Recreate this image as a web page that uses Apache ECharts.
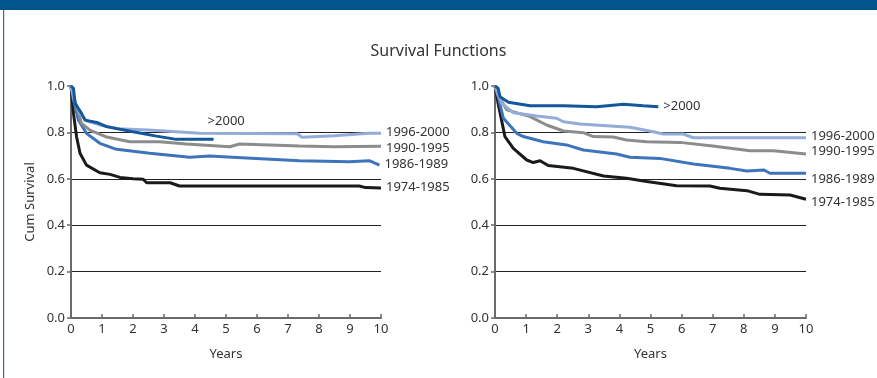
<!DOCTYPE html>
<html><head><meta charset="utf-8">
<script src="https://cdn.jsdelivr.net/npm/echarts@6/dist/echarts.min.js"></script>
<style>html,body{margin:0;padding:0;background:#fff}#c{width:877px;height:378px}</style>
</head><body><div id="c"></div>
<script>
// ---- data (years, cumulative survival) ----
const seriesNames = ['>2000', '1996-2000', '1990-1995', '1986-1989', '1974-1985'];
const xTicks = [0,1,2,3,4,5,6,7,8,9,10];
const yTicks = [0.0,0.2,0.4,0.6,0.8,1.0];

const leftGt2000 = [[0,1],[0.08,0.99],[0.13,0.925],[0.34,0.882],[0.45,0.853],[0.83,0.843],[1.15,0.825],[2.0,0.803],[2.76,0.784],[3.4,0.77],[4.6,0.77]];
const left1996 = [[0,1],[0.1,0.94],[0.3,0.88],[0.5,0.85],[1.0,0.83],[1.5,0.816],[2.5,0.81],[4.15,0.796],[7.3,0.794],[7.45,0.779],[8.5,0.786],[9.6,0.796],[10,0.796]];
const left1990 = [[0,1],[0.18,0.911],[0.34,0.839],[0.61,0.81],[1.15,0.78],[1.9,0.76],[2.86,0.76],[3.72,0.75],[5.12,0.738],[5.44,0.75],[7.37,0.741],[8.5,0.738],[10,0.74]];
const left1986 = [[0,1],[0.08,0.94],[0.24,0.853],[0.5,0.796],[0.93,0.753],[1.47,0.727],[2.54,0.71],[3.83,0.693],[4.47,0.698],[5.2,0.693],[7.37,0.678],[8.98,0.674],[9.62,0.678],[9.95,0.659]];
const left1974 = [[0,1],[0.08,0.882],[0.18,0.781],[0.29,0.71],[0.5,0.659],[0.93,0.626],[1.26,0.619],[1.58,0.606],[2.0,0.6],[2.33,0.598],[2.44,0.583],[3.2,0.583],[3.5,0.569],[4.15,0.569],[9.3,0.569],[9.5,0.562],[10,0.56]];

const rightGt2000 = [[0,1],[0.1,0.99],[0.16,0.954],[0.43,0.93],[1.13,0.915],[2.2,0.915],[3.27,0.911],[4.13,0.921],[4.77,0.915],[5.25,0.911]];
const right1996 = [[0,1],[0.22,0.925],[0.59,0.885],[1.34,0.871],[1.98,0.861],[2.2,0.846],[2.73,0.836],[4.34,0.822],[5.09,0.803],[5.41,0.793],[6.05,0.793],[6.38,0.777],[10,0.777]];
const right1990 = [[0,1],[0.1,0.96],[0.38,0.897],[1.13,0.868],[1.66,0.832],[2.2,0.806],[2.84,0.799],[3.16,0.782],[3.8,0.78],[4.23,0.767],[4.87,0.76],[5.95,0.757],[7.0,0.741],[8.2,0.721],[8.95,0.721],[10,0.707]];
const right1986 = [[0,1],[0.1,0.954],[0.27,0.861],[0.7,0.796],[0.91,0.782],[1.55,0.76],[2.3,0.746],[2.84,0.724],[3.91,0.707],[4.34,0.693],[5.3,0.688],[6.38,0.664],[7.56,0.645],[8.1,0.634],[8.65,0.638],[8.84,0.624],[10,0.624]];
const right1974 = [[0,1],[0.1,0.925],[0.32,0.782],[0.59,0.731],[1.02,0.681],[1.23,0.67],[1.45,0.678],[1.71,0.657],[2.52,0.645],[3.49,0.612],[4.23,0.602],[4.88,0.588],[5.84,0.57],[6.91,0.569],[7.23,0.559],[8.1,0.549],[8.52,0.533],[9.49,0.53],[10,0.512]];

// ---- styling ----
const FONT = 'Noto Sans';
const TXT = '#333';
const colors = ['#14579b', '#93acd8', '#8c8c8c', '#3e74bc', '#1a1a1a'];
const leftOffsets = [[-11,-18],[0,-1],[0,2],[0,-1],[0,-1]];
const rightOffsets = [[0,0],[0,-1],[0,-3],[0,6],[0,3]];

function mkX(gi){
  return {type:'value', gridIndex:gi, min:0, max:10, interval:1,
    name:'Years', nameLocation:'middle', nameGap:30,
    nameTextStyle:{fontFamily:FONT, fontSize:13, color:TXT},
    axisLine:{onZero:false, lineStyle:{color:'#6a6a6a', width:2}},
    axisTick:{inside:true, length:4, lineStyle:{color:'#6a6a6a', width:1.5}},
    axisLabel:{fontFamily:FONT, fontSize:13, color:TXT, margin:5},
    splitLine:{show:false}};
}
function mkY(gi, withName){
  return {type:'value', gridIndex:gi, min:0, max:1, interval:0.2,
    name: withName ? 'Cum Survival' : '', nameLocation:'middle', nameGap:34,
    nameTextStyle:{fontFamily:FONT, fontSize:13, color:TXT},
    axisLine:{show:true, lineStyle:{color:'#6a6a6a', width:2}},
    axisTick:{show:true, length:4, lineStyle:{color:'#6a6a6a', width:1.5}},
    axisLabel:{fontFamily:FONT, fontSize:13, color:TXT, margin:6, formatter:v=>v.toFixed(1)},
    splitLine:{show:true, lineStyle:{color:['transparent','#222','#222','#222','#222','transparent'], width:1.2}}};
}
function mkSeries(data, idx, gi, offs){
  return {type:'line', name:seriesNames[idx], xAxisIndex:gi, yAxisIndex:gi, data:data,
    showSymbol:false, symbol:'none', animation:false, z: 10-idx,
    lineStyle:{color:colors[idx], width:3}, itemStyle:{color:colors[idx]},
    endLabel:{show:true, formatter:seriesNames[idx], distance:5, offset:offs[idx],
      fontFamily:FONT, fontSize:13, color:TXT, align:'left', verticalAlign:'middle'}};
}
const leftData = [leftGt2000, left1996, left1990, left1986, left1974];
const rightData = [rightGt2000, right1996, right1990, right1986, right1974];
const series = [];
leftData.forEach((d,i)=>series.push(mkSeries(d,i,0,leftOffsets)));
rightData.forEach((d,i)=>series.push(mkSeries(d,i,1,rightOffsets)));

const chart = echarts.init(document.getElementById('c'), null, {renderer:'canvas'});
chart.setOption({
  animation:false,
  backgroundColor:'#fff',
  title:{text:'Survival Functions', left:'center', top:38,
    textStyle:{fontFamily:FONT, fontSize:16, fontWeight:'normal', color:TXT}},
  grid:[{left:71, top:86, width:310, height:232},
        {left:495, top:86, width:311, height:232}],
  xAxis:[mkX(0), mkX(1)],
  yAxis:[mkY(0,true), mkY(1,false)],
  graphic:[
    {type:'rect', shape:{x:0,y:0,width:877,height:10}, style:{fill:'#00558c'}, silent:true},
    {type:'rect', shape:{x:3,y:10,width:1.2,height:368}, style:{fill:'#2a6d9e'}, silent:true}
  ],
  series: series
});
</script>
</body></html>
